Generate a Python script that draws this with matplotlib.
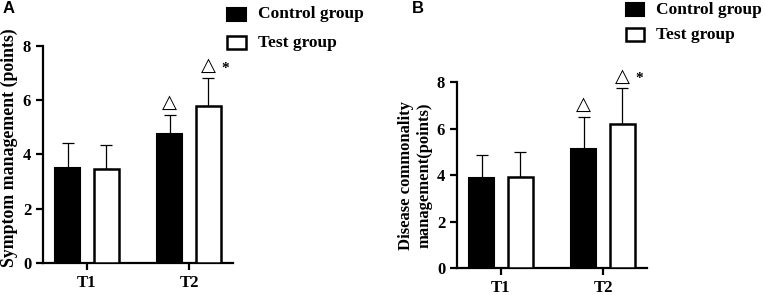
import numpy as np
import matplotlib.pyplot as plt

times = ['Liberation Serif', 'DejaVu Serif']

categories = ['T1', 'T2']
groups = ['Control group', 'Test group']

# panel A: symptom management
a_control = [3.50, 4.75]
a_control_sd = [0.92, 0.71]
a_test = [3.46, 5.78]
a_test_sd = [0.88, 1.04]

# panel B: disease commonality management
b_control = [3.88, 5.12]
b_control_sd = [0.98, 1.39]
b_test = [3.93, 6.19]
b_test_sd = [1.04, 1.54]

fig = plt.figure(figsize=(7.65, 2.95), dpi=100)
ax_a = fig.add_axes([0.0562, 0.1085, 0.2484, 0.7356])
ax_b = fig.add_axes([0.5974, 0.0915, 0.2484, 0.6305])

width = 0.24
offset = 0.19
x = np.arange(len(categories))


def draw_panel(ax, control, control_sd, test, test_sd, ylabel, label_size, star_dy):
    ax.bar(x - offset, control, width, color='black', edgecolor='black', linewidth=1.5, zorder=3)
    ax.bar(x + offset, test, width, color='white', edgecolor='black', linewidth=1.8, zorder=3)
    ax.errorbar(x - offset, control, yerr=[np.zeros(2), control_sd], fmt='none',
                ecolor='black', elinewidth=0.9, capsize=4.5, capthick=0.9, zorder=2)
    ax.errorbar(x + offset, test, yerr=[np.zeros(2), test_sd], fmt='none',
                ecolor='black', elinewidth=0.9, capsize=4.5, capthick=0.9, zorder=2)
    # significance marks at T2
    top_c = control[1] + control_sd[1]
    top_t = test[1] + test_sd[1]
    ax.text(1 - offset, top_c + 0.1, '\u25b3', ha='center', va='bottom', fontsize=14,
            family='DejaVu Sans')
    ax.text(1 + offset, top_t + 0.1, '\u25b3', ha='center', va='bottom', fontsize=14,
            family='DejaVu Sans', clip_on=False)
    ax.text(1 + offset + 0.16, top_t + star_dy, '*', ha='center', va='center', fontsize=11,
            family=times, weight='bold', clip_on=False)

    ax.set_xlim(-0.431, 1.431)
    ax.set_ylim(0, 8)
    ax.set_yticks([0, 2, 4, 6, 8])
    ax.set_xticks(x)
    ax.set_xticklabels(categories)
    for s in ['top', 'right']:
        ax.spines[s].set_visible(False)
    for s in ['left', 'bottom']:
        ax.spines[s].set_linewidth(1.6)
    ax.tick_params(width=1.6, length=5, labelsize=12)
    for t in ax.get_xticklabels() + ax.get_yticklabels():
        t.set_family(times)
        t.set_weight('bold')
    ax.set_ylabel(ylabel, family=times, weight='bold', fontsize=label_size, labelpad=3)


draw_panel(ax_a, a_control, a_control_sd, a_test, a_test_sd,
           'Symptom management (points)', 12.8, 0.35)
draw_panel(ax_b, b_control, b_control_sd, b_test, b_test_sd,
           'Disease commonality\nmanagement(points)', 12, 0.42)
ax_a.yaxis.set_label_coords(-0.13, 0.53)

# legends
for lx, ly1, ly2 in [(0.297, 0.952, 0.855), (0.818, 0.967, 0.882)]:
    fig.patches.append(plt.Rectangle((lx, ly1 - 0.022), 0.024, 0.044, transform=fig.transFigure,
                                     facecolor='black', edgecolor='black', linewidth=1.5))
    fig.patches.append(plt.Rectangle((lx, ly2 - 0.022), 0.024, 0.044, transform=fig.transFigure,
                                     facecolor='white', edgecolor='black', linewidth=1.8))
    fig.text(lx + 0.04, ly1, groups[0], family=times, weight='bold', fontsize=12.5, va='center')
    fig.text(lx + 0.04, ly2, groups[1], family=times, weight='bold', fontsize=12.5, va='center')

fig.text(0.004, 0.972, 'A', family='Liberation Sans', weight='bold', fontsize=12, va='center')
fig.text(0.538, 0.972, 'B', family='Liberation Sans', weight='bold', fontsize=12, va='center')

fig.savefig('out.png', dpi=100)
